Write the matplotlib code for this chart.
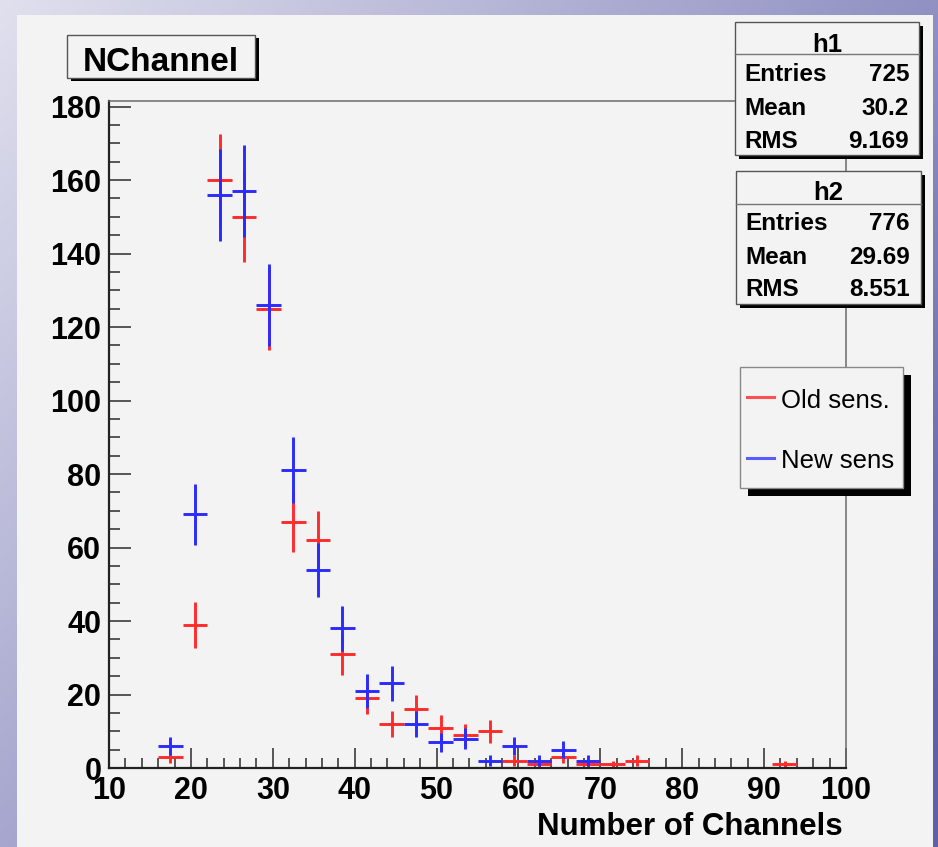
import numpy as np
import matplotlib
matplotlib.use("Agg")
import matplotlib.pyplot as plt
from matplotlib.patches import Rectangle

# ---------------- data ----------------
bin_edges = np.arange(10, 101, 3)          # 30 bins of width 3 from 10 to 100
old_counts = [0, 0, 3, 39, 160, 150, 125, 67, 62, 31, 19, 12, 16, 11, 9, 10, 2, 1, 3, 1,
              1, 2, 0, 0, 0, 0, 0, 1, 0, 0]
new_counts = [0, 0, 6, 69, 156, 157, 126, 81, 54, 38, 21, 23, 12, 7, 8, 2, 6, 2, 5, 2,
              0, 0, 0, 0, 0, 0, 0, 0, 0, 0]
x_ticks = [10, 20, 30, 40, 50, 60, 70, 80, 90, 100]
y_ticks = [0, 20, 40, 60, 80, 100, 120, 140, 160, 180]
stats_h1 = [("Entries", "725"), ("Mean", "30.2"), ("RMS", "9.169")]
stats_h2 = [("Entries", "776"), ("Mean", "29.69"), ("RMS", "8.551")]
legend_labels = ["Old sens.", "New sens"]
title = "NChannel"
xlabel = "Number of Channels"

RED = "#ff2b2b"
BLUE = "#2b2bff"
RED_L = "#ff5050"
BLUE_L = "#5a5aff"
CANVAS = "#f3f3f3"

W, H = 938, 847
plt.rcParams['font.family'] = ['Liberation Sans', 'DejaVu Sans']

fig = plt.figure(figsize=(W / 100, H / 100), dpi=100)

# ---------------- background gradient ----------------
ax_bg = fig.add_axes([0, 0, 1, 1], zorder=-10)
gx, gy = np.meshgrid(np.linspace(0, 1, 200), np.linspace(0, 1, 200))
t = np.clip(0.62 * gx + 0.45 * gy, 0, 1)
c0 = np.array([224, 224, 238]) / 255.0
c1 = np.array([96, 96, 168]) / 255.0
img = c0[None, None, :] * (1 - t[..., None]) + c1[None, None, :] * t[..., None]
ax_bg.imshow(img, extent=[0, W, H, 0], aspect='auto', interpolation='bilinear')
ax_bg.set_xlim(0, W)
ax_bg.set_ylim(H, 0)
ax_bg.add_patch(Rectangle((17, 15), 933 - 17, H - 15 + 5, facecolor=CANVAS, edgecolor='none'))
ax_bg.axis('off')

# ---------------- main axes ----------------
L, R, T, B = 109, 846, 101, 768
ax = fig.add_axes([L / W, 1 - B / H, (R - L) / W, (B - T) / H], zorder=1)
ax.set_facecolor(CANVAS)

centers = (bin_edges[:-1] + bin_edges[1:]) / 2.0
half = (bin_edges[1:] - bin_edges[:-1]) / 2.0

for counts, col in [(old_counts, RED), (new_counts, BLUE)]:
    c = np.array(counts, dtype=float)
    m = c > 0
    ax.errorbar(centers[m], c[m], xerr=half[m], yerr=np.sqrt(c[m]), fmt='none',
                ecolor=col, elinewidth=2.1, capsize=0)

ax.set_xlim(10, 100)
ax.set_ylim(0, 181.5)
ax.set_xticks(x_ticks)
ax.set_yticks(y_ticks)
ax.set_xticks(np.arange(10, 101, 2), minor=True)
ax.set_yticks(np.arange(0, 181, 5), minor=True)
ax.set_xticklabels([str(v) for v in x_ticks], fontweight='bold', fontsize=22)
ax.set_yticklabels([str(v) for v in y_ticks], fontweight='bold', fontsize=22)

ax.tick_params(axis='x', which='major', direction='in', length=14.5, width=1.4,
               color='#555555', pad=6)
ax.tick_params(axis='x', which='minor', direction='in', length=7.2, width=1.4,
               color='#555555')
ax.tick_params(axis='y', which='major', direction='in', length=16, width=1.4,
               color='#555555', pad=5.5)
ax.tick_params(axis='y', which='minor', direction='in', length=8, width=1.4,
               color='#555555')
ax.tick_params(top=False, right=False, which='both')

for s in ['left', 'bottom']:
    ax.spines[s].set_color('#222222')
    ax.spines[s].set_linewidth(1.6)
for s in ['top', 'right']:
    ax.spines[s].set_color('#6a6a6a')
    ax.spines[s].set_linewidth(1.1)

# ---------------- overlay (boxes, texts) ----------------
ov = fig.add_axes([0, 0, 1, 1], zorder=5)
ov.set_xlim(0, W)
ov.set_ylim(H, 0)
ov.axis('off')
ov.patch.set_alpha(0)


def box(x0, y0, x1, y1, sh, edge='#555555'):
    ov.add_patch(Rectangle((x0 + sh[0], y0 + sh[1]), x1 - x0, y1 - y0,
                           facecolor='black', edgecolor='none'))
    ov.add_patch(Rectangle((x0, y0), x1 - x0, y1 - y0, facecolor=CANVAS,
                           edgecolor=edge, linewidth=1.0))


# title box
box(67, 35, 255, 78, (3.5, 3.5))
ov.text(161, 71, title, ha='center', va='baseline', fontsize=24, fontweight='bold')

# stats boxes
def stats(x0, y0, x1, y1, sep, name, rows, base_hdr, bases, lx, rx):
    box(x0, y0, x1, y1, (4, 4))
    ov.plot([x0, x1], [sep, sep], color='#777777', lw=1.0)
    ov.text((x0 + x1) / 2, base_hdr, name, ha='center', va='baseline',
            fontsize=18.5, fontweight='bold')
    for (k, v), b in zip(rows, bases):
        ov.text(lx, b, k, ha='left', va='baseline', fontsize=17.5, fontweight='bold')
        ov.text(rx, b, v, ha='right', va='baseline', fontsize=17.5, fontweight='bold')


stats(735, 22, 919, 155, 54, "h1", stats_h1, 52.5, [81, 115, 147.5], 744, 909)
stats(736, 171, 921, 304, 204, "h2", stats_h2, 200, [230, 263.5, 296.5], 745, 910)

# legend
box(740, 367, 903, 488, (8, 8), edge='#888888')
for lab, col, ly, tb in [(legend_labels[0], RED_L, 397, 407.5),
                         (legend_labels[1], BLUE_L, 458, 467.5)]:
    ov.plot([747, 774], [ly, ly], color=col, lw=2.2)
    ov.text(781, tb, lab, ha='left', va='baseline', fontsize=18.5)

# x axis title
ov.text(843, 835, xlabel, ha='right', va='baseline', fontsize=22.5, fontweight='bold')

fig.savefig("out.png", dpi=100)
